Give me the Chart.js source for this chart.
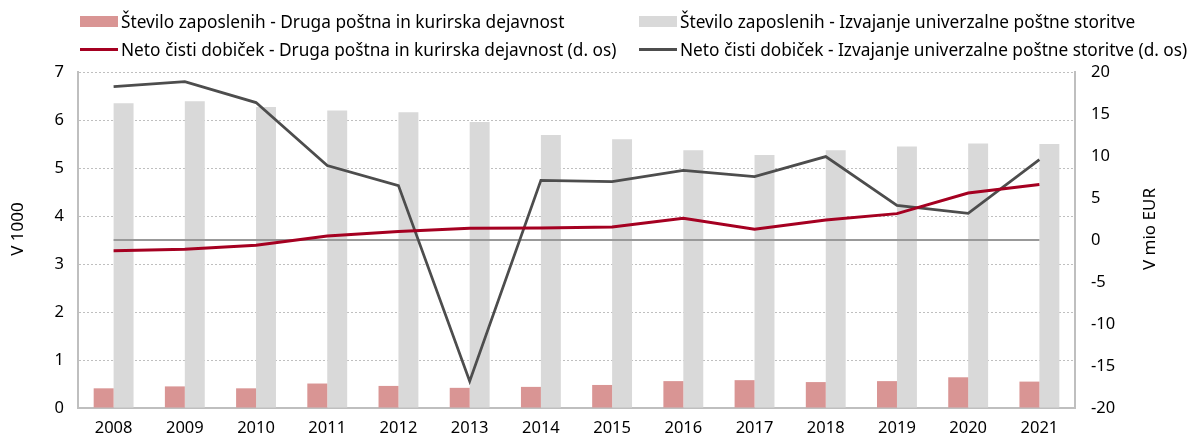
<!DOCTYPE html>
<html>
<head>
<meta charset="utf-8">
<script src="https://cdn.jsdelivr.net/npm/chart.js@4.4.0/dist/chart.umd.min.js"></script>
<style>
    html, body { margin: 0; padding: 0; background: #fff; }
    #wrap { position: relative; width: 1193px; height: 441px; }
    #legend { position: absolute; left: 0; top: 0; width: 1193px; height: 62px;
              font-family: 'Noto Sans', sans-serif; font-size: 17.25px; color: #000; }
    .item { position: absolute; display: flex; align-items: center; white-space: nowrap; }
    .sw { width: 38px; margin-right: 3px; }
</style>
</head>
<body>
<div id="wrap">
    <canvas id="chart" width="1193" height="441"></canvas>
    <div id="legend"></div>
</div>
<script>
// Podatki
const years = ['2008', '2009', '2010', '2011', '2012', '2013', '2014', '2015', '2016', '2017', '2018', '2019', '2020', '2021'];
const zaposleniDruga = [0.41, 0.45, 0.41, 0.51, 0.46, 0.42, 0.44, 0.48, 0.56, 0.58, 0.54, 0.56, 0.64, 0.55];
const zaposleniUniverzalna = [6.35, 6.39, 6.27, 6.2, 6.16, 5.96, 5.69, 5.6, 5.37, 5.27, 5.37, 5.45, 5.51, 5.5];
const dobicekDruga = [-1.27, -1.11, -0.63, 0.48, 1.0, 1.39, 1.43, 1.55, 2.58, 1.27, 2.38, 3.14, 5.6, 6.6];
const dobicekUniverzalna = [18.26, 18.86, 16.36, 8.86, 6.47, -16.8, 7.1, 6.95, 8.3, 7.54, 9.93, 4.13, 3.18, 9.57];
const nicla = years.map(() => 0);

const FONT = "'Noto Sans', sans-serif";
const GRID = '#bfbfbf';

// Naslova osi (oba berejo od spodaj navzgor)
const axisTitles = {
    id: 'axisTitles',
    afterDraw(chart) {
        const ctx = chart.ctx;
        const yMid = 229;
        const draw = (text, x) => {
            ctx.save();
            ctx.translate(x, yMid);
            ctx.rotate(-Math.PI / 2);
            ctx.font = '17px ' + FONT;
            ctx.fillStyle = '#000';
            ctx.textAlign = 'center';
            ctx.textBaseline = 'middle';
            ctx.fillText(text, 0, 0);
            ctx.restore();
        };
        draw('V 1000', chart.scales.y.left + 18);
        draw('V mio EUR', chart.scales.y1.right - 43);
    }
};

const chart = new Chart(document.getElementById('chart').getContext('2d'), {
    data: {
        labels: years,
        datasets: [
            {
                type: 'bar',
                label: 'Število zaposlenih - Druga poštna in kurirska dejavnost',
                data: zaposleniDruga,
                backgroundColor: '#d99594',
                yAxisID: 'y',
                order: 5
            },
            {
                type: 'bar',
                label: 'Število zaposlenih - Izvajanje univerzalne poštne storitve',
                data: zaposleniUniverzalna,
                backgroundColor: '#d9d9d9',
                yAxisID: 'y',
                order: 5
            },
            {
                type: 'line',
                label: 'Neto čisti dobiček - Druga poštna in kurirska dejavnost (d. os)',
                data: dobicekDruga,
                borderColor: '#a50021',
                borderWidth: 3,
                pointRadius: 0,
                tension: 0,
                yAxisID: 'y1',
                order: 1
            },
            {
                type: 'line',
                label: 'Neto čisti dobiček - Izvajanje univerzalne poštne storitve (d. os)',
                data: dobicekUniverzalna,
                borderColor: '#4d4d4d',
                borderWidth: 2.75,
                pointRadius: 0,
                tension: 0,
                yAxisID: 'y1',
                order: 2
            },
            {
                type: 'line',
                label: '',
                data: nicla,
                borderColor: '#999999',
                borderWidth: 2,
                pointRadius: 0,
                yAxisID: 'y1',
                order: 3
            }
        ]
    },
    options: {
        responsive: false,
        animation: false,
        layout: { padding: { top: 72, left: 0, right: 0, bottom: 0 } },
        datasets: {
            bar: { categoryPercentage: 0.56, barPercentage: 1.0 }
        },
        plugins: {
            legend: { display: false },
            tooltip: { enabled: false }
        },
        scales: {
            x: {
                grid: { display: false, drawTicks: false },
                border: { display: true, color: GRID, width: 2 },
                ticks: { color: '#000', font: { family: FONT, size: 16.5 }, padding: 10, maxRotation: 0 },
                afterFit: s => { s.height = 33; }
            },
            y: {
                position: 'left',
                min: 0,
                max: 7,
                ticks: { stepSize: 1, color: '#000', font: { family: FONT, size: 16.5 }, padding: 14 },
                grid: { color: GRID, lineWidth: 1, drawTicks: false },
                border: { display: true, color: GRID, width: 2, dash: [2, 2] },
                afterFit: s => { s.width = 78; }
            },
            y1: {
                position: 'right',
                min: -20,
                max: 20,
                ticks: { stepSize: 5, color: '#000', font: { family: FONT, size: 16.5 }, padding: 16 },
                grid: { display: false, drawTicks: false },
                border: { display: true, color: GRID, width: 2 },
                afterFit: s => { s.width = 118; }
            }
        }
    },
    plugins: [axisTitles]
});

// Legenda v dveh stolpcih
const legendEl = document.getElementById('legend');
const legendCols = [80, 639];
const legendRows = [21.5, 49];
chart.data.datasets.filter(d => d.label).forEach((d, i) => {
    const item = document.createElement('div');
    item.className = 'item';
    item.style.left = legendCols[i % 2] + 'px';
    item.style.top = (legendRows[Math.floor(i / 2)] - 12) + 'px';
    item.style.height = '24px';
    const sw = document.createElement('span');
    sw.className = 'sw';
    if (d.type === 'bar') {
        sw.style.height = '11px';
        sw.style.background = d.backgroundColor;
    } else {
        sw.style.height = '3px';
        sw.style.background = d.borderColor;
    }
    const txt = document.createElement('span');
    txt.textContent = d.label;
    item.appendChild(sw);
    item.appendChild(txt);
    legendEl.appendChild(item);
});
</script>
</body>
</html>
